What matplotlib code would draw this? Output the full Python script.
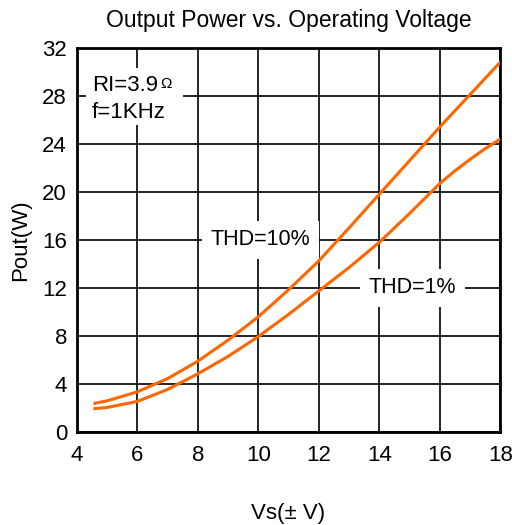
import numpy as np
import matplotlib.pyplot as plt
from matplotlib.patches import Rectangle

plt.rcParams['font.family'] = ['Liberation Sans', 'DejaVu Sans']

# data
vs10 = [4.6, 5, 6, 7, 8, 9, 10, 11, 12, 13, 14, 15, 16, 17, 18]
thd10 = [2.4, 2.6, 3.35, 4.45, 5.9, 7.65, 9.6, 11.85, 14.25, 17.0, 19.8, 22.6, 25.4, 28.1, 30.8]
vs1 = [4.6, 5, 6, 7, 8, 9, 10, 11, 12, 13, 14, 15, 16, 16.5, 17, 17.5, 18]
thd1 = [1.95, 2.05, 2.55, 3.55, 4.85, 6.3, 7.95, 9.8, 11.75, 13.7, 15.8, 18.2, 20.7, 21.75, 22.7, 23.6, 24.4]
xticks = [4, 6, 8, 10, 12, 14, 16, 18]
yticks = [0, 4, 8, 12, 16, 20, 24, 28, 32]

ORANGE = "#FF6600"

fig = plt.figure(figsize=(5.12, 5.25), dpi=100)
ax = fig.add_axes([0.150, 0.177, 0.827, 0.732])

ax.plot(vs10, thd10, color=ORANGE, lw=2.2, zorder=3, solid_joinstyle="round")
ax.plot(vs1, thd1, color=ORANGE, lw=2.2, zorder=3, solid_joinstyle="round")

ax.set_xlim(4, 18)
ax.set_ylim(0, 32)
ax.set_xticks(xticks)
ax.set_yticks(yticks)
ax.tick_params(length=0, labelsize=16, pad=9)
ax.tick_params(axis="y", pad=7)
ax.grid(True, color="black", lw=1.2)
ax.set_axisbelow(True)
for s in ax.spines.values():
    s.set_linewidth(2.0)

ax.set_title("Output Power vs. Operating Voltage", fontsize=16.5, pad=15)
ax.set_xlabel("Vs(± V)", fontsize=16, labelpad=27)
ax.set_ylabel("Pout(W)", fontsize=16, labelpad=8)

# white area behind the condition note
ax.add_patch(Rectangle((4.3, 25.6), 3.2, 4.7, facecolor="white", edgecolor="none", zorder=1.5))
ax.text(4.5, 28.85, "RI=3.9", fontsize=16, va="center", ha="left", zorder=2)
ax.text(6.75, 29.0, "Ω", fontsize=11, va="center", ha="left", zorder=2)
ax.text(4.5, 26.6, "f=1KHz", fontsize=16, va="center", ha="left", zorder=2)

box = dict(facecolor="white", edgecolor="none", pad=6)
ax.text(10.08, 16, "THD=10%", fontsize=15.5, va="center", ha="center", zorder=2, bbox=box)
ax.text(15.1, 12, "THD=1%", fontsize=15.5, va="center", ha="center", zorder=2, bbox=box)

fig.savefig("out.png", dpi=100)
